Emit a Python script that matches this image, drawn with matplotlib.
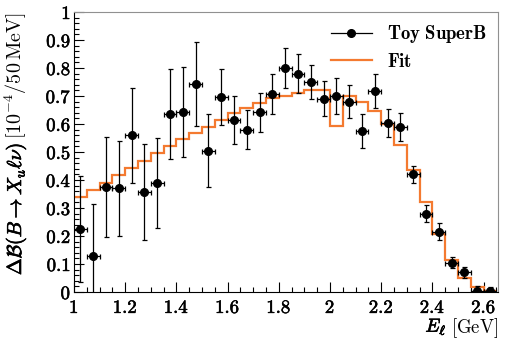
import numpy as np
import matplotlib
matplotlib.use('Agg')
import matplotlib.pyplot as plt
import matplotlib.patheffects as pe
from matplotlib.lines import Line2D
from matplotlib.ticker import MultipleLocator, FuncFormatter

plt.rcParams['mathtext.fontset'] = 'cm'
plt.rcParams['font.family'] = 'DejaVu Serif'

# 50 MeV bins from 1.0 to 2.65 GeV
bin_edges = [1.00, 1.05, 1.10, 1.15, 1.20, 1.25, 1.30, 1.35, 1.40, 1.45, 1.50,
             1.55, 1.60, 1.65, 1.70, 1.75, 1.80, 1.85, 1.90, 1.95, 2.00, 2.05,
             2.10, 2.15, 2.20, 2.25, 2.30, 2.35, 2.40, 2.45, 2.50, 2.55, 2.60, 2.65]

# toy SuperB points (one per bin)
toy_vals = [0.225, 0.13, 0.375, 0.37, 0.56, 0.357, 0.39, 0.635, 0.642, 0.743,
            0.505, 0.696, 0.614, 0.58, 0.642, 0.707, 0.80, 0.78, 0.75, 0.69,
            0.70, 0.68, 0.575, 0.718, 0.603, 0.59, 0.42, 0.28, 0.215, 0.105,
            0.07, 0.005, 0.003]
toy_errs = [0.19, 0.185, 0.18, 0.17, 0.17, 0.17, 0.16, 0.16, 0.16, 0.15,
            0.13, 0.10, 0.085, 0.07, 0.07, 0.07, 0.07, 0.07, 0.06, 0.063,
            0.063, 0.06, 0.062, 0.06, 0.05, 0.05, 0.03, 0.03, 0.03, 0.02,
            0.02, 0.015, 0.015]

# fit histogram
fit_vals = [0.34, 0.366, 0.39, 0.418, 0.443, 0.468, 0.495, 0.52, 0.545, 0.567,
            0.59, 0.615, 0.638, 0.657, 0.675, 0.692, 0.70, 0.71, 0.72, 0.72,
            0.593, 0.70, 0.68, 0.647, 0.60, 0.525, 0.436, 0.32, 0.207, 0.114,
            0.05, 0.018, 0.005]

ORANGE = '#f47a30'
bold = [pe.withStroke(linewidth=0.5, foreground='black')]
semibold = [pe.withStroke(linewidth=0.4, foreground='black')]

edges = np.array(bin_edges)
centers = 0.5 * (edges[:-1] + edges[1:])
half_w = 0.5 * np.diff(edges)

fig = plt.figure(figsize=(5.06, 3.4), dpi=100)
ax = fig.add_axes([74/506, 48/340, 424/506, 280/340])

ax.stairs(fit_vals, edges, baseline=None, color=ORANGE, lw=1.6, zorder=2)
ax.errorbar(centers, toy_vals, yerr=toy_errs, xerr=half_w, fmt='o', color='black',
            ms=5.5, elinewidth=0.9, capsize=1.8, capthick=0.9, zorder=3)

ax.set_xlim(1.0, 2.656)
ax.set_ylim(0, 1.0)

ax.xaxis.set_major_locator(MultipleLocator(0.2))
ax.xaxis.set_minor_locator(MultipleLocator(0.05))
ax.yaxis.set_major_locator(MultipleLocator(0.1))
ax.yaxis.set_minor_locator(MultipleLocator(0.02))
fmt = FuncFormatter(lambda v, p: r'$\mathbf{%s}$' % ('%g' % round(v, 2)))
ax.xaxis.set_major_formatter(fmt)
ax.yaxis.set_major_formatter(fmt)
ax.tick_params(which='both', direction='in', top=False, right=False, labelsize=13.5)
ax.tick_params(which='major', length=7, width=0.8)
ax.tick_params(which='minor', length=3.5, width=0.8)
ax.tick_params(axis='x', pad=5)
ax.tick_params(axis='y', pad=2)
for lab in ax.get_xticklabels() + ax.get_yticklabels():
    lab.set_path_effects(semibold)

ax.spines['top'].set_color('#909090')
ax.spines['right'].set_color('#909090')

# x label: bold italic E_l then [GeV], right aligned at axis end
xu = ax.text(1.0, -0.085, r'$[\mathrm{GeV}]$', transform=ax.transAxes,
             ha='right', va='top', fontsize=13.5)
ax.annotate(r'$E_{\ell}$', xy=(0, 0.5), xycoords=xu, xytext=(-3, 0),
            textcoords='offset points', ha='right', va='center', fontsize=13.5,
            path_effects=bold)

# y label: units at the top of the axis, bold part below them
ylab_x = -58 / 424
yu = ax.text(ylab_x, 1.0, r'$[10^{-4}/50\,\mathrm{MeV}]$', transform=ax.transAxes,
             rotation=90, ha='center', va='top', fontsize=14.5)
yb = ax.text(ylab_x, 1.0, r'$\Delta\mathcal{B}(B\rightarrow X_u\ell\nu)$',
             transform=ax.transAxes, rotation=90, ha='center', va='top',
             fontsize=14.5, path_effects=bold)
fig.canvas.draw()
r = fig.canvas.get_renderer()
h_units = yu.get_window_extent(r).height
yb.set_position((ylab_x, 1.0 - (h_units + 4) / ax.get_window_extent(r).height))

handles = [Line2D([0], [0], color='black', marker='o', ms=5.5, lw=0.9),
           Line2D([0], [0], color=ORANGE, lw=1.6)]
leg = ax.legend(handles, [r'$\mathbf{Toy\ SuperB}$', r'$\mathbf{Fit}$'],
                loc='upper right', frameon=False, fontsize=13.5, handlelength=2.2,
                borderaxespad=0.2, labelspacing=0.4)

fig.savefig('out.png', dpi=100)
